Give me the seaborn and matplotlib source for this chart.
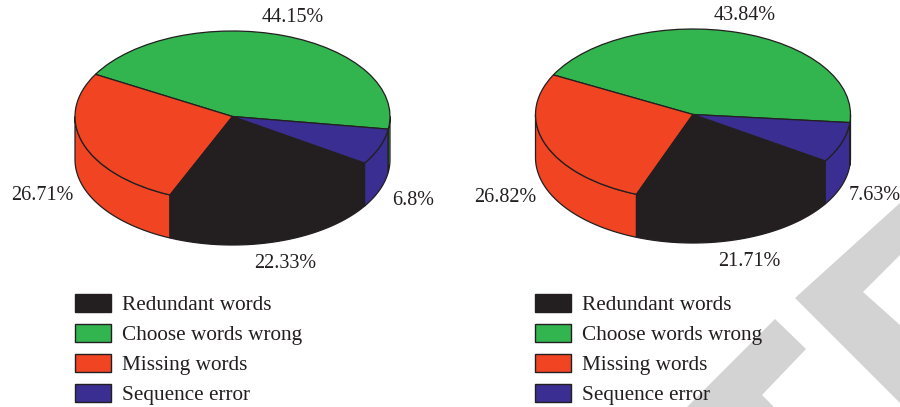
import numpy as np
import matplotlib
matplotlib.use("Agg")
import matplotlib.pyplot as plt
from matplotlib.patches import Patch, Polygon
import seaborn as sns

categories = ["Redundant words", "Choose words wrong", "Missing words", "Sequence error"]
left_values = [22.33, 44.15, 26.71, 6.8]
right_values = [21.71, 43.84, 26.82, 7.63]
colors = ["#231f20", "#32b44f", "#f04423", "#3a2e92"]

W, H = 900, 407
INK = "#231f20"
sns.set_theme(style="white")
plt.rcParams["font.family"] = ["Liberation Serif", "DejaVu Serif"]
FS = 14.5
LFS = 15.3
LPX = LFS * 100 / 72

fig = plt.figure(figsize=(W / 100, H / 100), dpi=100, facecolor="white")


def fx(x):
    return x / W


def fy(y):
    return 1 - y / H


# background watermark
for pts in ([(795, 298), (900, 203), (900, 255), (863, 292), (900, 325), (900, 403)],
            [(687, 407), (775, 319), (806, 349), (762, 395), (774, 407)]):
    fig.add_artist(Polygon([(fx(a), fy(b)) for a, b in pts], closed=True,
                           transform=fig.transFigure, facecolor="#d3d3d3",
                           edgecolor="none", zorder=-5))


def pie3d(values, cx, cy, start, label_pos, legend_x, legend_y, rx=157.5, ry=85.5, depth=43):
    ax = fig.add_axes([fx(cx - rx), fy(cy + ry + depth), 2 * rx / W, (2 * ry + depth) / H])
    ax.patch.set_alpha(0)
    order = [1, 2, 0, 3]
    vals = np.array(values)[order]
    cols = [colors[i] for i in order]
    ax.pie(vals, colors=cols, startangle=start, radius=1, center=(0, 0),
           wedgeprops=dict(edgecolor=INK, linewidth=0.9, clip_on=False, zorder=3))
    ax.set_aspect("auto")
    d = depth / ry
    ax.set_xlim(-1, 1)
    ax.set_ylim(-1 - d, 1)
    ax.axis("off")

    # side wall, from the same slice angles
    edges = start + np.concatenate([[0], np.cumsum(vals) / vals.sum() * 360])
    for turn in (0, 360):
        for a0, a1, c in zip(edges[:-1] + turn, edges[1:] + turn, cols):
            lo, hi = max(a0, 180), min(a1, 360)
            if hi <= lo:
                continue
            t = np.radians(np.linspace(lo, hi, 80))
            x, y = np.cos(t), np.sin(t)
            ax.fill(np.r_[x, x[::-1]], np.r_[y, y[::-1] - d], facecolor=c,
                    edgecolor=INK, linewidth=0.9, clip_on=False, zorder=2)

    for v, (px, py) in zip(values, label_pos):
        fig.text(fx(px), fy(py), f"{v:g}%", ha="center", va="center",
                 fontsize=FS, color=INK)

    handles = [Patch(facecolor=c, edgecolor=INK, linewidth=1.0) for c in colors]
    fig.legend(handles, categories, loc="upper left",
               bbox_to_anchor=(fx(legend_x), fy(legend_y)), frameon=False,
               fontsize=LFS, labelcolor=INK, borderpad=0, borderaxespad=0,
               handlelength=36 / LPX, handleheight=0.926,
               handletextpad=11 / LPX, labelspacing=8.7 / LPX)


pie3d(left_values, 232.5, 116.5, -8.5,
      [(285, 264), (293, 18), (42, 196), (413, 200)], 74.5, 294)
pie3d(right_values, 693, 114.5, -5.4,
      [(749, 262), (745, 15), (505, 198), (875, 195)], 535, 294)

fig.savefig("out.png", dpi=100, facecolor="white")
